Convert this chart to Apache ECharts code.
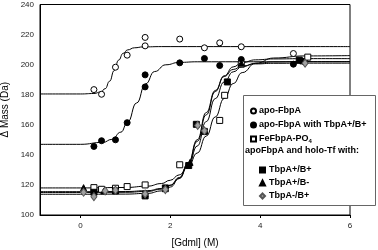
<!DOCTYPE html>
<html>
<head>
<meta charset="utf-8">
<script src="https://cdn.jsdelivr.net/npm/echarts@6/dist/echarts.min.js"></script>
<style>html,body{margin:0;padding:0;background:#fff}#c{width:378px;height:250px}</style>
</head>
<body>
<div id="c"></div>
<script>
// ---- data ----
const seriesNames = ['apo-FbpA', 'apo-FbpA with TbpA+/B+', 'FeFbpA-PO4', 'TbpA+/B+', 'TbpA+/B-', 'TbpA-/B+'];
const legendHeader = 'apoFbpA and holo-Tf with:';
const xTicks = [0, 2, 4, 6];
const yTicks = [100, 120, 140, 160, 180, 200, 220, 240];

const apoFbpA = [[0.30,183.4],[0.47,180.3],[0.78,198.3],[1.04,206.3],[1.44,212.5],[1.44,218.1],[2.21,217.0],[2.76,211.2],[3.10,214.5],[3.58,211.9],[4.74,207.4]];
const apoTbpAB = [[0.30,145.6],[0.47,149.4],[0.78,150.0],[1.04,161.4],[1.44,185.2],[1.44,193.2],[2.21,201.2],[2.76,204.1],[3.10,199.4],[3.58,203.4],[4.74,200.3],[4.99,201.8]];
const feFbpAPO4 = [[0.30,118.2],[0.47,117.1],[0.78,117.8],[1.04,118.9],[1.44,120.0],[2.21,133.4],[2.76,155.6],[3.10,162.9],[3.21,179.6],[3.58,200.3],[5.06,205.0]];
const holoTbpAB = [[0.30,115.1],[0.78,116.0],[1.44,112.7],[1.89,118.0],[2.41,132.9],[2.58,160.3],[3.27,188.5],[4.87,203.0]];
const holoTbpABminus = [[0.07,118.2],[0.52,116.0],[0.78,116.5],[1.44,114.0],[1.89,117.5],[2.44,135.0],[2.76,156.0],[3.58,201.0],[4.95,202.5]];
const holoTbpAminusB = [[0.07,115.1],[0.30,112.2],[0.55,116.0],[0.78,116.5],[1.44,114.0],[1.89,116.9],[2.61,159.6],[2.76,156.0],[5.00,201.0]];

// fitted curves
const fitApoX = [-0.9,0,0.3,0.45,0.55,0.65,0.75,0.85,0.95,1.05,1.2,1.4,1.8,6];
const fitApoY = [180.5,180.5,180.8,181.8,184,189,196,203,207.5,209.8,211.2,211.8,212,212];
const fitApoTbpX = [-0.9,0,0.5,0.7,0.9,1.05,1.25,1.45,1.65,1.9,2.2,2.6,6];
const fitApoTbpY = [147,147,148.3,150.3,155.1,161.8,174.5,187.2,195.4,199.9,201.5,201.9,202];
const fitLowX = [-0.9,0,1.0,1.5,1.8,2.0,2.2,2.4,2.6,2.8,3.0,3.2,3.4,3.6,3.9,4.3,5.0,6.0];
const fitFeY = [118.0,118.0,118.3,119.2,120.9,123.1,126.7,132.5,141.2,152.5,165.2,177.5,187.4,194.7,200.9,204.4,205.8,206.0];
const fitHoloABY = [115,115,115.1,115.7,117.2,119.7,124.9,134.3,149.0,166.6,182.1,192.6,198.5,201.4,203.2,203.8,204,204];
const fitHoloABmY = [115.5,115.5,115.6,116.2,117.6,119.9,124.5,132.8,145.9,162.1,177.4,188.5,195.2,198.7,200.9,201.8,202,202];
const fitHoloAmBY = [113.8,113.8,113.9,114.4,116.0,118.6,124.2,134.5,150.1,168.1,182.8,192.1,196.8,199.1,200.5,200.9,201,201];

// ---- chart ----
const FONT = '"Liberation Sans", Arial, sans-serif';
const zip = (xs, ys) => xs.map((x, i) => [x, ys[i]]);
const fitLine = (xs, ys) => ({
  type: 'line', data: zip(xs, ys), showSymbol: false, symbol: 'none',
  smooth: 0.5, smoothMonotone: 'x', silent: true, z: 2,
  lineStyle: { color: '#000', width: 1 }
});
const scatter = (name, data, symbol, size, fill, stroke) => ({
  type: 'scatter', name, data, symbol, symbolSize: size, z: 3,
  itemStyle: { color: fill, borderColor: stroke, borderWidth: 1, opacity: 1 }
});

const chart = echarts.init(document.getElementById('c'), null, { renderer: 'canvas' });
chart.setOption({
  animation: false,
  backgroundColor: '#fff',
  grid: { left: 40, right: 28, top: 4.5, bottom: 35, show: true, borderColor: '#000', borderWidth: 1,
    backgroundColor: 'transparent', outerBoundsMode: 'none', containLabel: false },
  xAxis: {
    type: 'value', min: -0.9, max: 6,
    name: '[Gdml] (M)', nameLocation: 'middle', nameGap: 23,
    nameTextStyle: { fontFamily: FONT, fontSize: 10, color: '#000' },
    axisLine: { show: true, onZero: false, lineStyle: { color: '#000', width: 1 } },
    axisTick: { show: true, customValues: xTicks, length: 3, lineStyle: { color: '#000' } },
    axisLabel: { customValues: xTicks, fontFamily: FONT, fontSize: 8, color: '#222', margin: 7 },
    splitLine: { show: false }
  },
  yAxis: {
    type: 'value', min: 100, max: 240, interval: 20,
    name: 'Δ Mass (Da)', nameLocation: 'middle', nameGap: 26,
    nameTextStyle: { fontFamily: FONT, fontSize: 10, color: '#000' },
    axisLine: { show: true, onZero: false, lineStyle: { color: '#000', width: 1 } },
    axisTick: { show: false },
    axisLabel: { fontFamily: FONT, fontSize: 8, color: '#222', margin: 6 },
    splitLine: { show: false }
  },
  legend: [
    {
      data: seriesNames.slice(0, 3), orient: 'vertical', left: 245, top: 101,
      itemWidth: 5, itemHeight: 5, itemGap: 4, z: 100, selectedMode: false,
      textStyle: { fontFamily: FONT, fontSize: 9, fontWeight: 'bold', color: '#000', lineHeight: 10,
        padding: [0, 0, 0, -2],
        rich: { sub: { fontFamily: FONT, fontSize: 6, fontWeight: 'bold', color: '#000', verticalAlign: 'bottom', padding: [4, 0, 0, 0] } } },
      formatter: n => n === 'FeFbpA-PO4' ? 'FeFbpA-PO{sub|4}' : n
    },
    {
      data: seriesNames.slice(3), orient: 'vertical', left: 254, top: 160,
      itemWidth: 5, itemHeight: 5, itemGap: 3, z: 100, selectedMode: false,
      textStyle: { fontFamily: FONT, fontSize: 9, fontWeight: 'bold', color: '#000', lineHeight: 10, padding: [0, 0, 0, -1] }
    }
  ],
  graphic: [
    { type: 'rect', z: 50, shape: { x: 243.5, y: 95.5, width: 132, height: 110 },
      style: { fill: '#fff', stroke: '#666', lineWidth: 1 } },
    { type: 'text', z: 100, left: 245, top: 146,
      style: { text: legendHeader, font: 'bold 9px ' + FONT, fill: '#000' } }
  ],
  series: [
    fitLine(fitApoX, fitApoY),
    fitLine(fitApoTbpX, fitApoTbpY),
    fitLine(fitLowX, fitFeY),
    fitLine(fitLowX, fitHoloABY),
    fitLine(fitLowX, fitHoloABmY),
    fitLine(fitLowX, fitHoloAmBY),
    scatter(seriesNames[0], apoFbpA, 'circle', 6, '#fff', '#000'),
    scatter(seriesNames[1], apoTbpAB, 'circle', 6, '#000', '#000'),
    scatter(seriesNames[2], feFbpAPO4, 'rect', 6, '#fff', '#000'),
    scatter(seriesNames[3], holoTbpAB, 'rect', 6, '#000', '#000'),
    scatter(seriesNames[4], holoTbpABminus, 'triangle', 6, '#000', '#000'),
    scatter(seriesNames[5], holoTbpAminusB, 'diamond', [6, 8], '#a0a0a0', '#555')
  ]
});
</script>
</body>
</html>
